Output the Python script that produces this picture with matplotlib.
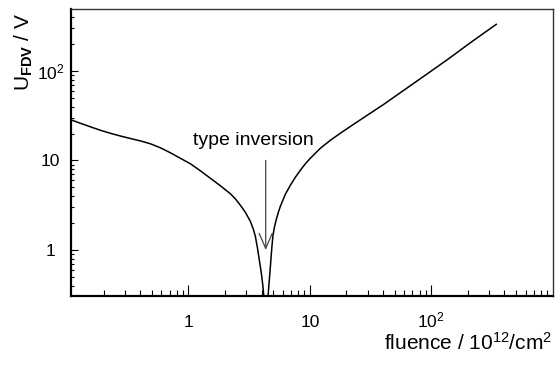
import matplotlib
matplotlib.use("Agg")
import matplotlib.pyplot as plt
from matplotlib.ticker import LogLocator, NullFormatter

plt.rcParams['font.family'] = ['Liberation Sans', 'DejaVu Sans']
plt.rcParams['mathtext.fontset'] = 'custom'
plt.rcParams['mathtext.rm'] = 'Liberation Sans'
plt.rcParams['mathtext.it'] = 'Liberation Sans:italic'
plt.rcParams['mathtext.bf'] = 'Liberation Sans:bold'

# data (fluence in 1e12/cm^2, U_FDV in V)
fluence_left = [0.1089, 0.1291, 0.156, 0.1888, 0.228, 0.2754, 0.333, 0.4027,
                0.4865, 0.588, 0.711, 0.859, 1.039, 1.255, 1.517, 1.834,
                2.216, 2.436, 2.679, 2.945, 3.237, 3.428, 3.559, 3.698,
                3.84, 3.99, 4.10, 4.18, 4.25, 4.30]
ufdv_left = [28.35, 26.04, 23.80, 21.75, 20.14, 18.78, 17.61, 16.56,
             15.37, 13.87, 12.19, 10.58, 9.19, 7.67, 6.33, 5.22,
             4.25, 3.73, 3.16, 2.64, 2.09, 1.70, 1.42, 1.07,
             0.767, 0.549, 0.403, 0.304, 0.16, 0.08]
fluence_min = [4.35]
ufdv_min = [0.02]
fluence_right = [4.40, 4.45, 4.529, 4.598, 4.686, 4.775, 4.866, 4.961,
                 5.104, 5.301, 5.505, 5.718, 6.285, 6.911, 7.597, 8.352,
                 9.183, 10.09, 12.20, 14.75, 17.82, 21.54, 28.63, 40.50,
                 55.57, 81.20, 134.7, 209.4, 342.8]
ufdv_right = [0.08, 0.16, 0.304, 0.403, 0.549, 0.767, 1.07, 1.42,
              1.793, 2.203, 2.638, 3.078, 4.193, 5.285, 6.493, 7.773,
              9.186, 10.58, 13.69, 16.82, 20.14, 24.0, 31.0, 42.3,
              57.2, 82.0, 133.0, 206.6, 332.5]

xticks = [1, 10, 100]
xticklabels = ["1", "10", r"$10^2$"]
yticks = [1, 10, 100]
yticklabels = ["1", "10", r"$10^2$"]

arrow_x = 4.33
arrow_top, arrow_tip = 10.0, 1.0
label_text = "type inversion"

fluence = fluence_left + fluence_min + fluence_right
ufdv = ufdv_left + ufdv_min + ufdv_right

fig = plt.figure(figsize=(5.55, 3.65), dpi=100)
ax = fig.add_axes([71/555, 1 - 296/365, (553 - 71)/555, (296 - 9)/365])
ax.set_xscale('log')
ax.set_yscale('log')
ax.plot(fluence, ufdv, color='black', lw=1.1, solid_joinstyle='round')
ax.set_xlim(0.108, 1005)
ax.set_ylim(0.306, 493)

ax.set_xticks(xticks, labels=xticklabels, fontsize=12.5, va='baseline')
ax.set_yticks(yticks, labels=yticklabels, fontsize=12.5, ha='center')
ax.xaxis.set_minor_locator(LogLocator(base=10, subs=range(2, 10), numticks=20))
ax.yaxis.set_minor_locator(LogLocator(base=10, subs=range(2, 10), numticks=20))
ax.xaxis.set_minor_formatter(NullFormatter())
ax.yaxis.set_minor_formatter(NullFormatter())
ax.tick_params(axis='x', which='major', direction='in', length=8, width=0.8, pad=22.5)
ax.tick_params(axis='x', which='minor', direction='in', length=4.3, width=0.8)
ax.tick_params(axis='y', which='major', direction='in', length=5, width=0.8, pad=14.8)
ax.tick_params(axis='y', which='minor', direction='in', length=2.5, width=0.8)
ax.tick_params(top=False, right=False, which='both')

for s in ['left', 'bottom']:
    ax.spines[s].set_linewidth(1.6)
for s in ['top', 'right']:
    ax.spines[s].set_linewidth(1.0)
    ax.spines[s].set_color('#333333')

ax.annotate('', xy=(arrow_x, arrow_tip), xytext=(arrow_x, arrow_top),
            arrowprops=dict(arrowstyle='->,head_length=1.08,head_width=0.47',
                            color='#444444', lw=0.9, mutation_scale=10,
                            shrinkA=0, shrinkB=0))
ax.text(3.46, 14.8, label_text, ha='center', va='baseline', fontsize=14)

fig.text(552/555, 1 - 350/365, r"fluence / 10$^{12}$/cm$^{2}$",
         ha='right', va='baseline', fontsize=15)
fig.text(24/555, 1 - 13/365, r"U$_{\mathbf{FDV}}$ / V", rotation=90,
         ha='center', va='top', fontsize=15)

fig.savefig('out.png', dpi=100)
